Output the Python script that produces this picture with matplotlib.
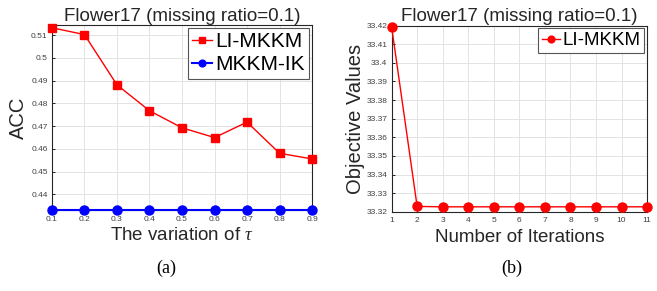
import matplotlib
matplotlib.use('Agg')
import matplotlib.pyplot as plt
import numpy as np

tau = [0.1, 0.2, 0.3, 0.4, 0.5, 0.6, 0.7, 0.8, 0.9]
acc_li = [0.5133, 0.5103, 0.4882, 0.4768, 0.4693, 0.4650, 0.4718, 0.4581, 0.4556]
acc_ik = [0.4331] * 9

iters = list(range(1, 12))
obj = [33.4195, 33.3229, 33.3227, 33.3227, 33.3227, 33.3227,
       33.3227, 33.3227, 33.3227, 33.3227, 33.3227]

title = 'Flower17 (missing ratio=0.1)'

plt.rcParams['font.family'] = ['Liberation Sans', 'DejaVu Sans']
plt.rcParams['mathtext.fontset'] = 'custom'
plt.rcParams['mathtext.it'] = 'Liberation Serif:italic'

fig = plt.figure(figsize=(6.57, 2.91), dpi=100)
ax1 = fig.add_axes([0.079, 0.278, 0.396, 0.636])
ax2 = fig.add_axes([0.596, 0.272, 0.389, 0.640])


def style(ax):
    ax.grid(True, color='#e3e3e3', linewidth=0.7)
    ax.set_axisbelow(True)
    ax.tick_params(labelsize=6, labelcolor='#404040', length=2.5, width=0.6,
                   direction='in', top=False, right=False)
    ax.tick_params(axis='x', pad=4)
    ax.tick_params(axis='y', pad=3)
    for s in ax.spines.values():
        s.set_linewidth(0.8)
        s.set_color('#262626')


def legend(ax, size):
    leg = ax.legend(loc='upper right', fontsize=size, handlelength=0.95,
                    handletextpad=0.15, borderpad=0.2, labelspacing=0.2,
                    borderaxespad=0.15, markerscale=0.75, fancybox=False,
                    framealpha=1, edgecolor='#555555')
    leg.get_frame().set_linewidth(0.8)


ax1.plot(tau, acc_li, '-s', color='red', markerfacecolor='red',
         markersize=5.5, linewidth=1, label='LI-MKKM', clip_on=False, zorder=3)
ax1.plot(tau, acc_ik, '-o', color='blue', markerfacecolor='blue',
         markersize=6.5, linewidth=1.5, label='MKKM-IK', clip_on=False, zorder=3)
ax1.set_xlim(0.1, 0.9)
ax1.set_ylim(0.4331, 0.5145)
ax1.set_xticks(tau)
ax1.set_yticks(np.arange(0.44, 0.515, 0.01))
ax1.set_yticklabels(['0.44', '0.45', '0.46', '0.47', '0.48', '0.49', '0.5', '0.51'])
ax1.set_xticklabels(['%g' % t for t in tau])
style(ax1)
ax1.set_title(title, fontsize=13.5, pad=3, color='#262626')
ax1.set_ylabel('ACC', fontsize=14.5, color='#262626', labelpad=2)
ax1.set_xlabel(r'The variation of $\tau$', fontsize=13.5, color='#262626', labelpad=3)
legend(ax1, 15)

ax2.plot(iters, obj, '-o', color='red', markerfacecolor='red',
         markersize=6.5, linewidth=1, label='LI-MKKM', clip_on=False, zorder=3)
ax2.set_xlim(1, 11)
ax2.set_ylim(33.32, 33.42)
ax2.set_xticks(iters)
ax2.set_yticks(np.linspace(33.32, 33.42, 11))
ax2.set_yticklabels(['33.32', '33.33', '33.34', '33.35', '33.36', '33.37',
                     '33.38', '33.39', '33.4', '33.41', '33.42'])
style(ax2)
ax2.set_title(title, fontsize=13.5, pad=3, color='#262626')
ax2.set_ylabel('Objective Values', fontsize=14.5, color='#262626', labelpad=1)
ax2.set_xlabel('Number of Iterations', fontsize=13.5, color='#262626', labelpad=3)
legend(ax2, 13.5)

fig.text(0.253, 0.062, '(a)', fontsize=13, family='Liberation Serif', ha='center')
fig.text(0.779, 0.062, '(b)', fontsize=13, family='Liberation Serif', ha='center')

fig.savefig('out.png', dpi=100)
